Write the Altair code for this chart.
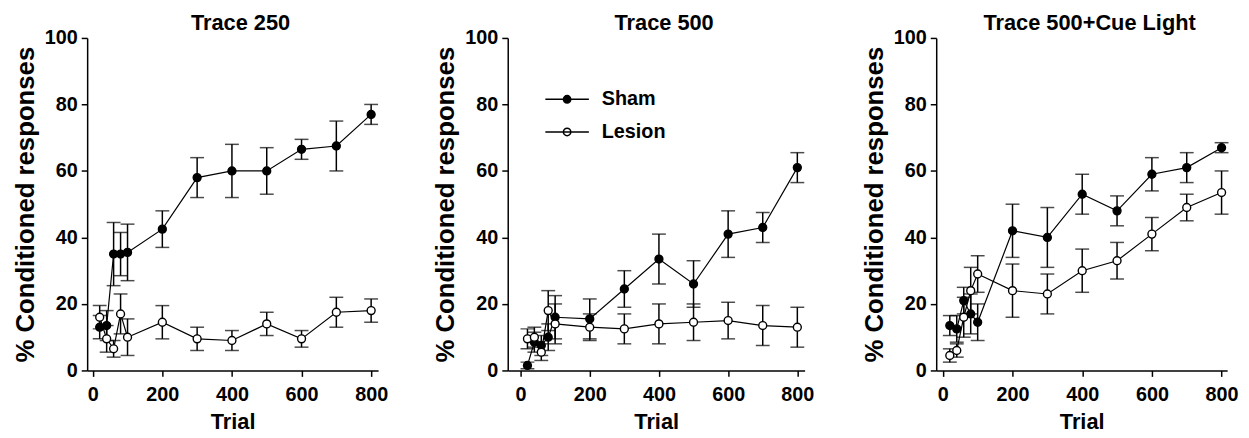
import altair as alt
import pandas as pd

trials = [20, 40, 60, 80, 100, 200, 300, 400, 500, 600, 700, 800]

t250_sham = [13, 13.5, 35, 35, 35.5, 42.5, 58, 60, 60, 66.5, 67.5, 77]
t250_sham_err = [3.5, 4.5, 9.5, 6.5, 8.5, 5.5, 6, 8, 7, 3, 7.5, 3]
t250_lesion = [16, 9.5, 6.5, 17, 10, 14.5, 9.5, 9, 14, 9.5, 17.5, 18]
t250_lesion_err = [3.5, 4, 2.5, 6, 5.5, 5, 3.5, 3, 3.5, 2.5, 4.5, 3.5]

t500_sham = [1.5, 8.5, 7.5, 10, 16, 15.5, 24.5, 33.5, 26, 41, 43, 61]
t500_sham_err = [1, 3, 3, 4, 6.5, 6, 5.5, 7.5, 7, 7, 4.5, 4.5]
t500_lesion = [9.5, 10, 5.5, 18, 14, 13, 12.5, 14, 14.5, 15, 13.5, 13]
t500_lesion_err = [3, 3, 2.5, 6, 6, 4, 4.5, 6, 5.5, 5.5, 6, 6]

cue_sham = [13.5, 12.5, 21, 17, 14.5, 42, 40, 53, 48, 59, 61, 67]
cue_sham_err = [3, 4, 4, 6, 5.5, 8, 9, 6, 4.5, 5, 4.5, 1.5]
cue_lesion = [4.5, 6, 16, 24, 29, 24, 23, 30, 33, 41, 49, 53.5]
cue_lesion_err = [2, 2, 6, 7, 5.5, 8, 6, 6.5, 5.5, 5, 4, 6.5]

groups = ["Sham", "Lesion"]
FONT = "Liberation Sans"

LEGEND_PATH = ("M-1,0L1,0M-0.17,0A0.17,0.17,0,1,0,0.17,0"
               "A0.17,0.17,0,1,0,-0.17,0Z")


def make_df(sham, sham_err, lesion, lesion_err):
    rows = []
    for g, vals, errs in (("Sham", sham, sham_err), ("Lesion", lesion, lesion_err)):
        for t, v, e in zip(trials, vals, errs):
            rows.append({"trial": t, "value": v, "lo": v - e, "hi": v + e, "group": g})
    return pd.DataFrame(rows)


def panel(title, sham, sham_err, lesion, lesion_err, xdom, width, legend):
    df = make_df(sham, sham_err, lesion, lesion_err)
    base = alt.Chart(df)
    xs = alt.X("trial:Q", scale=alt.Scale(domain=xdom, nice=False, zero=False),
               axis=alt.Axis(values=[0, 200, 400, 600, 800], title="Trial"))
    ys = alt.Y("value:Q", scale=alt.Scale(domain=[0, 100], nice=False),
               axis=alt.Axis(values=[0, 20, 40, 60, 80, 100],
                             title="%  Conditioned responses"))
    line = base.mark_line(color="black", strokeWidth=1.2).encode(
        x=xs, y=ys, detail="group:N")
    rule = base.mark_rule(color="black", strokeWidth=1.5).encode(
        x="trial:Q", y="lo:Q", y2="hi:Q")
    tlo = base.mark_tick(color="black", orient="horizontal", size=14,
                         thickness=1.5).encode(x="trial:Q", y="lo:Q")
    thi = base.mark_tick(color="black", orient="horizontal", size=14,
                         thickness=1.5).encode(x="trial:Q", y="hi:Q")
    if legend:
        leg = alt.Legend(orient="none", legendX=37, legendY=39, title=None,
                         symbolType=LEGEND_PATH, symbolSize=1936,
                         symbolStrokeColor="black", symbolStrokeWidth=1.5,
                         labelFont=FONT, labelFontWeight="bold",
                         labelFontSize=20, labelColor="black",
                         labelOffset=12, rowPadding=-16)
    else:
        leg = None
    pts = base.mark_point(shape="circle", size=64, stroke="black",
                          strokeWidth=1.4, opacity=1, fillOpacity=1).encode(
        x="trial:Q", y="value:Q",
        fill=alt.Fill("group:N", scale=alt.Scale(domain=groups,
                                                 range=["black", "white"]),
                      legend=leg))
    return alt.layer(line, rule, tlo, thi, pts).properties(
        width=width, height=336,
        title=alt.TitleParams(title, font=FONT, fontSize=22, fontWeight="bold",
                              color="black", dx=8, offset=-7))


p1 = panel("Trace 250", t250_sham, t250_sham_err, t250_lesion, t250_lesion_err,
           [-16, 820], 294, False)
p2 = panel("Trace 500", t500_sham, t500_sham_err, t500_lesion, t500_lesion_err,
           [-37, 821], 300, True)
p3 = panel("Trace 500+Cue Light", cue_sham, cue_sham_err, cue_lesion,
           cue_lesion_err, [-19, 816], 294, False)

left = alt.hconcat(p1, p2, spacing=45).resolve_legend(
    fill="independent").resolve_scale(fill="independent")

chart = alt.hconcat(
    left, p3, spacing=47,
    padding={"left": 4, "top": 2, "right": 2, "bottom": 2}
).resolve_legend(fill="independent").resolve_scale(fill="independent").configure_view(
    stroke=None
).configure_axis(
    grid=False, domainColor="black", domainWidth=1.5, tickColor="black",
    tickWidth=1.5, tickSize=6, labelFont=FONT, labelFontWeight="bold",
    labelFontSize=20, labelColor="black", titleFont=FONT,
    titleFontWeight="bold", titleColor="black", labelPadding=4
).configure_axisY(
    titleFontSize=26, titlePadding=6
).configure_axisX(
    titleFontSize=22, titlePadding=8, labelPadding=8
)

chart.save("out.html", embed_options={"renderer": "svg", "actions": False})
